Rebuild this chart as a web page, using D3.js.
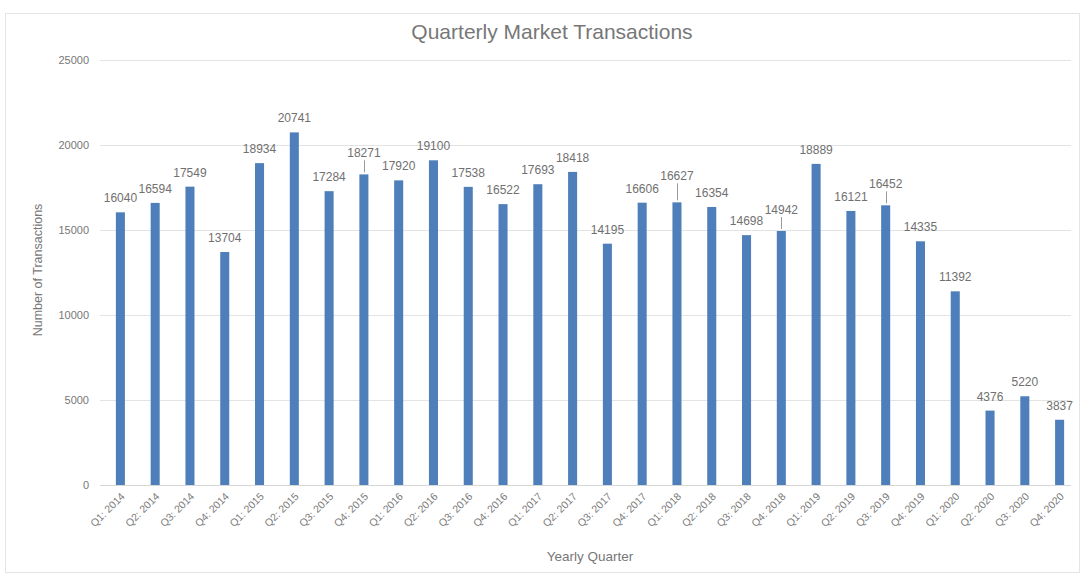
<!DOCTYPE html>
<html>
<head>
<meta charset="utf-8">
<script src="https://cdn.jsdelivr.net/npm/d3@7"></script>
<style>
    body { margin: 0; background: #fff; }
    text { font-family: "Liberation Sans", Arial, Helvetica, sans-serif; }
</style>
</head>
<body>
<div id="chart"></div>
<script>
// quarters and values
const quarters = [
    "Q1: 2014", "Q2: 2014", "Q3: 2014", "Q4: 2014",
    "Q1: 2015", "Q2: 2015", "Q3: 2015", "Q4: 2015",
    "Q1: 2016", "Q2: 2016", "Q3: 2016", "Q4: 2016",
    "Q1: 2017", "Q2: 2017", "Q3: 2017", "Q4: 2017",
    "Q1: 2018", "Q2: 2018", "Q3: 2018", "Q4: 2018",
    "Q1: 2019", "Q2: 2019", "Q3: 2019", "Q4: 2019",
    "Q1: 2020", "Q2: 2020", "Q3: 2020", "Q4: 2020"
];
const transactions = [
    16040, 16594, 17549, 13704,
    18934, 20741, 17284, 18271,
    17920, 19100, 17538, 16522,
    17693, 18418, 14195, 16606,
    16627, 16354, 14698, 14942,
    18889, 16121, 16452, 14335,
    11392, 4376, 5220, 3837
];
const yTicks = [0, 5000, 10000, 15000, 20000, 25000];
// labels that sit higher with a small leader line
const leaderQuarters = ["Q4: 2015", "Q1: 2018", "Q4: 2018", "Q3: 2019"];

const width = 1085, height = 578;
const margin = {left: 103, right: 8, top: 60, bottom: 93};

const svg = d3.select("#chart").append("svg")
    .attr("width", width)
    .attr("height", height);

// outer frame
svg.append("rect")
    .attr("x", 5.5).attr("y", 13.5)
    .attr("width", 1074).attr("height", 559)
    .attr("fill", "none")
    .attr("stroke", "#e4e4e4");

const x = d3.scaleBand()
    .domain(quarters)
    .range([margin.left, width - margin.right])
    .paddingInner(0.74)
    .paddingOuter(0.37);

const y = d3.scaleLinear()
    .domain([0, 25000])
    .range([height - margin.bottom, margin.top]);

// gridlines
svg.append("g").selectAll("line")
    .data(yTicks)
    .enter().append("line")
    .attr("x1", margin.left - 3)
    .attr("x2", width - margin.right - 6)
    .attr("y1", d => Math.round(y(d)) + 0.5)
    .attr("y2", d => Math.round(y(d)) + 0.5)
    .attr("stroke", d => d === 0 ? "#d6d6d6" : "#e3e3e3")
    .attr("stroke-width", 1);

// y tick labels
svg.append("g").selectAll("text")
    .data(yTicks)
    .enter().append("text")
    .attr("x", 89)
    .attr("y", d => y(d) + 4)
    .attr("text-anchor", "end")
    .attr("fill", "#777")
    .style("font-size", "11px")
    .text(d => d);

// bars
svg.append("g").selectAll("rect")
    .data(transactions)
    .enter().append("rect")
    .attr("x", (d, i) => x(quarters[i]))
    .attr("y", d => y(d))
    .attr("width", x.bandwidth())
    .attr("height", d => y(0) - y(d))
    .attr("fill", "#4f7fba");

// data labels
const labels = svg.append("g");
transactions.forEach(function(v, i){
    let cx = x(quarters[i]) + x.bandwidth() / 2;
    let lead = leaderQuarters.indexOf(quarters[i]) >= 0;
    let off = lead ? 17 : 10;
    if(quarters[i] === "Q1: 2018") off = 22;
    if(lead){
        labels.append("line")
            .attr("x1", Math.round(cx) + 0.5).attr("x2", Math.round(cx) + 0.5)
            .attr("y1", y(v) - off + 3).attr("y2", y(v) - 2)
            .attr("stroke", "#9a9a9a")
            .attr("stroke-width", 1);
    }
    labels.append("text")
        .attr("x", cx)
        .attr("y", y(v) - off)
        .attr("text-anchor", "middle")
        .attr("fill", "#707070")
        .style("font-size", "12px")
        .text(v);
});

// x tick labels
svg.append("g").selectAll("text")
    .data(quarters)
    .enter().append("text")
    .attr("text-anchor", "end")
    .attr("fill", "#7a7a7a")
    .style("font-size", "10.5px")
    .attr("transform", d => "translate(" + (x(d) + x.bandwidth() / 2 + 5) + "," + (y(0) + 12) + ") rotate(-45)")
    .text(d => d);

// title
svg.append("text")
    .text("Quarterly Market Transactions")
    .attr("x", 552).attr("y", 39)
    .attr("text-anchor", "middle")
    .attr("fill", "#777")
    .style("font-size", "21px");

// axis titles
svg.append("text")
    .text("Number of Transactions")
    .attr("text-anchor", "middle")
    .attr("fill", "#777")
    .style("font-size", "12.5px")
    .attr("transform", "translate(42, 270) rotate(-90)");

svg.append("text")
    .text("Yearly Quarter")
    .attr("x", 590).attr("y", 561)
    .attr("text-anchor", "middle")
    .attr("fill", "#777")
    .style("font-size", "13.5px");
</script>
</body>
</html>
